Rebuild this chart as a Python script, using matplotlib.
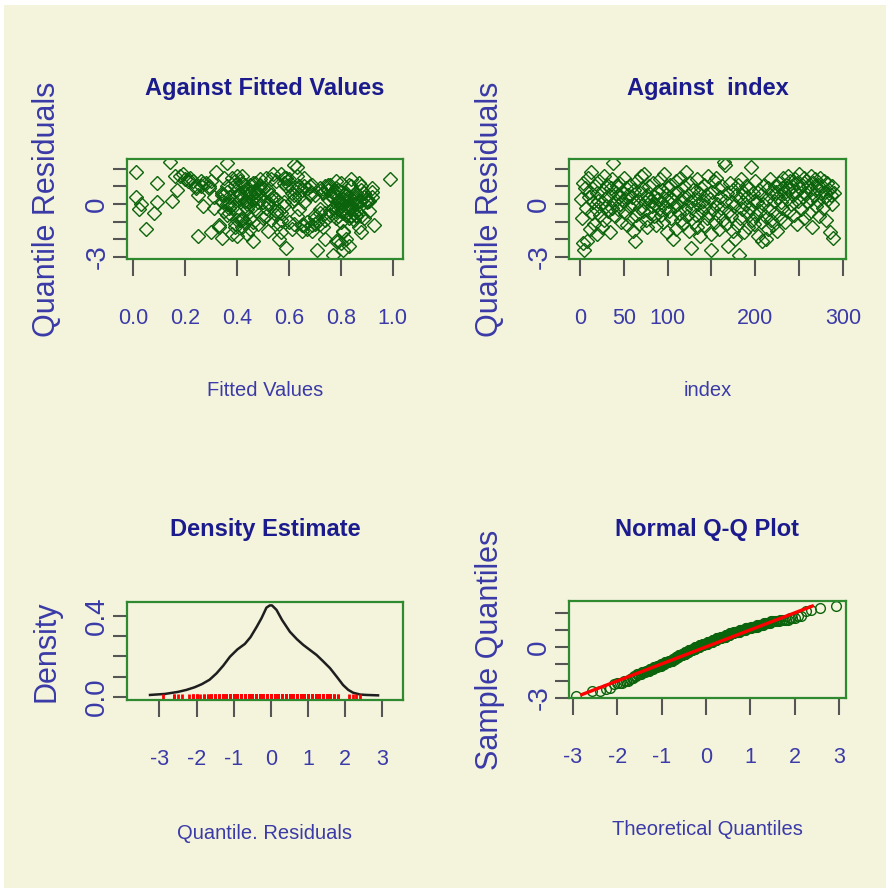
import matplotlib
matplotlib.use('Agg')
import matplotlib.pyplot as plt
import numpy as np
from statistics import NormalDist
from matplotlib.patches import Rectangle

# ---------------- data (read/estimated from the picture) ----------------
residuals = [
    0.3, -0.8, 1.2, -2.2, -2.6, 0.9, -0.2, -2.1, 1.5, 0.4,
    -1.4, 0.7, 1.8, -0.5, 0.1, -1.1, 1.0, -0.3, 0.6, -1.7,
    0.2, 1.3, -0.6, 0.0, -1.3, 0.8, 1.6, -0.9, 0.3, -0.1,
    1.1, -0.4, 0.5, -1.6, 0.9, 1.4, -0.2, 2.3, 0.1, -0.7,
    0.6, 1.0, -0.3, 0.4, 1.2, 0.0, -1.0, 0.7, 0.2, 1.5,
    -0.5, 0.3, 0.9, -1.2, 0.5, -0.1, 1.1, -0.8, 0.4, -1.5,
    0.0, 0.8, -2.1, -0.6, 1.3, 0.2, -1.1, 0.6, -0.2, 1.6,
    0.9, -0.4, 1.7, 0.1, -0.9, 0.5, -1.3, 0.3, 1.0, -0.5,
    0.2, -0.1, 1.2, -0.7, 0.4, 0.0, -1.2, 0.7, 0.3, -0.3,
    1.4, -0.6, 0.1, 0.8, -1.0, 1.7, -0.2, 0.5, -1.6, 0.2,
    0.9, -0.4, 1.1, -0.8, 0.3, -2.0, 0.6, -0.1, 1.3, -1.4,
    0.0, 0.7, -0.5, 1.5, -0.9, 0.2, -1.1, 0.4, 1.0, -0.3,
    1.8, -0.7, 0.5, -1.5, 0.1, 1.2, -2.5, -0.2, 0.8, -1.0,
    0.3, -0.6, 1.4, -1.3, 0.0, 0.6, -1.8, 0.9, -0.4, 0.2,
    -1.2, 1.1, -0.1, 0.5, -0.8, 1.6, -0.5, 0.3, -1.7, -2.6,
    0.7, -0.3, 1.3, -1.0, 1.5, 0.0, -0.6, 0.9, -1.4, 0.4,
    -0.2, 1.0, -0.9, 2.4, 2.2, 0.2, -1.1, 0.6, -2.4, -0.4,
    1.2, -0.7, 0.1, -1.5, 0.8, -0.1, -2.0, 0.5, -1.2, 1.1,
    -2.9, 0.3, -0.8, 1.4, -0.3, 0.7, -1.6, 0.0, 1.0, -0.5,
    0.4, -1.3, 0.9, -0.2, 2.1, -0.9, 0.6, -1.1, 0.2, 1.3,
    -0.6, 0.1, -1.8, 0.8, -0.4, -1.0, 0.5, -2.1, 0.0, 1.1,
    -0.7, -2.0, 0.3, -1.4, 0.9, -0.3, 1.4, -0.9, 0.6, -1.2,
    0.2, 1.0, -0.5, 0.7, -1.5, 0.4, 1.2, -0.8, 0.1, 0.9,
    -0.2, 1.5, 0.6, -1.0, 1.1, 0.3, 1.6, -0.4, 0.8, 1.3,
    0.0, 1.0, 0.5, -0.6, 1.4, 0.7, -1.1, 1.2, 0.2, 1.7,
    0.9, -0.3, 1.1, 0.4, 1.5, -0.8, 0.6, 1.3, 0.1, 1.0,
    -0.5, 0.8, 1.6, 0.3, -1.3, 1.2, 0.5, 1.4, -0.1, 0.9,
    1.1, 0.2, -0.7, 1.5, 0.6, 1.0, -0.2, 1.3, 0.4, 0.7,
    -0.9, 1.2, 0.3, 0.8, -1.6, 0.5, 1.0, 0.0, -1.9, 0.6,
]

fitted = [
    0.55, 0.42, 0.09, 0.80, 0.81, 0.67, 0.38, 0.78, 0.22, 0.01,
    0.05, 0.47, 0.01, 0.08, 0.09, 0.72, 0.29, 0.02, 0.86, 0.44,
    0.61, 0.26, 0.84, 0.03, 0.39, 0.75, 0.18, 0.53, 0.90, 0.46,
    0.69, 0.35, 0.82, 0.57, 0.24, 0.99, 0.77, 0.36, 0.50, 0.88,
    0.41, 0.64, 0.79, 0.31, 0.58, 0.85, 0.43, 0.73, 0.15, 0.66,
    0.37, 0.81, 0.48, 0.93, 0.62, 0.27, 0.76, 0.45, 0.89, 0.52,
    0.83, 0.40, 0.46, 0.70, 0.21, 0.87, 0.56, 0.34, 0.78, 0.63,
    0.49, 0.91, 0.19, 0.80, 0.42, 0.68, 0.33, 0.85, 0.59, 0.74,
    0.44, 0.82, 0.28, 0.51, 0.77, 0.38, 0.65, 0.92, 0.47, 0.81,
    0.60, 0.36, 0.79, 0.17, 0.71, 0.54, 0.84, 0.41, 0.30, 0.88,
    0.50, 0.76, 0.39, 0.83, 0.62, 0.82, 0.45, 0.80, 0.23, 0.67,
    0.86, 0.43, 0.72, 0.35, 0.57, 0.90, 0.48, 0.79, 0.26, 0.64,
    0.32, 0.84, 0.40, 0.69, 0.52, 0.87, 0.59, 0.37, 0.75, 0.46,
    0.81, 0.55, 0.20, 0.73, 0.44, 0.89, 0.40, 0.61, 0.78, 0.34,
    0.66, 0.49, 0.83, 0.25, 0.70, 0.42, 0.85, 0.53, 0.38, 0.71,
    0.77, 0.47, 0.30, 0.80, 0.58, 0.36, 0.86, 0.63, 0.45, 0.92,
    0.51, 0.74, 0.41, 0.14, 0.62, 0.82, 0.39, 0.68, 0.83, 0.56,
    0.27, 0.79, 0.48, 0.65, 0.88, 0.43, 0.56, 0.76, 0.33, 0.60,
    0.77, 0.84, 0.50, 0.21, 0.72, 0.45, 0.81, 0.37, 0.66, 0.87,
    0.54, 0.42, 0.78, 0.31, 0.63, 0.85, 0.48, 0.70, 0.91, 0.39,
    0.82, 0.58, 0.25, 0.44, 0.80, 0.67, 0.35, 0.79, 0.52, 0.75,
    0.86, 0.74, 0.46, 0.61, 0.29, 0.83, 0.53, 0.40, 0.77, 0.69,
    0.43, 0.88, 0.57, 0.36, 0.81, 0.64, 0.47, 0.78, 0.90, 0.50,
    0.84, 0.38, 0.73, 0.60, 0.45, 0.82, 0.16, 0.55, 0.79, 0.41,
    0.86, 0.68, 0.34, 0.76, 0.49, 0.80, 0.62, 0.42, 0.85, 0.57,
    0.72, 0.44, 0.83, 0.37, 0.59, 0.89, 0.48, 0.78, 0.66, 0.24,
    0.81, 0.52, 0.40, 0.75, 0.87, 0.46, 0.70, 0.84, 0.58, 0.92,
    0.43, 0.79, 0.63, 0.51, 0.82, 0.36, 0.77, 0.55, 0.86, 0.47,
    0.74, 0.80, 0.41, 0.65, 0.88, 0.53, 0.84, 0.45, 0.34, 0.61,
]

density_x = [-3.25, -2.85, -2.5, -2.27, -2.05, -1.86, -1.65, -1.46, -1.28, -1.10,
             -0.90, -0.70, -0.55, -0.38, -0.25, -0.12, -0.03, 0.03, 0.15, 0.30,
             0.51, 0.70, 0.87, 1.05, 1.23, 1.41, 1.59, 1.77, 1.94, 2.08,
             2.21, 2.40, 2.57, 2.88]
density_y = [0.010, 0.015, 0.025, 0.035, 0.048, 0.063, 0.085, 0.117, 0.155, 0.199,
             0.235, 0.262, 0.295, 0.347, 0.390, 0.441, 0.452, 0.452, 0.430, 0.380,
             0.322, 0.285, 0.257, 0.232, 0.207, 0.175, 0.142, 0.100, 0.059, 0.035,
             0.021, 0.012, 0.010, 0.008]

qq_ref_range = [-2.8, 2.4]

titles = ["Against Fitted Values", "Against  index", "Density Estimate", "Normal Q-Q Plot"]
xlabels = ["Fitted Values", "index", "Quantile. Residuals", "Theoretical Quantiles"]
ylabels = ["Quantile Residuals", "Quantile Residuals", "Density", "Sample Quantiles"]

fitted_ticks = [0.0, 0.2, 0.4, 0.6, 0.8, 1.0]
fitted_ticklabels = ["0.0", "0.2", "0.4", "0.6", "0.8", "1.0"]
index_ticks = [0, 50, 100, 150, 200, 250, 300]
index_ticklabels = ["0", "50", "100", "", "200", "", "300"]
resid_ticks = [-3, -2, -1, 0, 1, 2]
resid_ticklabels = ["-3", "", "", "0", "", ""]
dens_xticks = [-3, -2, -1, 0, 1, 2, 3]
dens_xticklabels = ["-3", "-2", "-1", "0", "1", "2", "3"]
dens_yticks = [0.0, 0.1, 0.2, 0.3, 0.4]
dens_yticklabels = ["0.0", "", "", "", "0.4"]
qq_xticks = [-3, -2, -1, 0, 1, 2, 3]
qq_xticklabels = ["-3", "-2", "-1", "0", "1", "2", "3"]

# ---------------- derived ----------------
res = np.array(residuals)
n = len(res)
index = np.arange(1, n + 1)
nd = NormalDist()
theo = np.array([nd.inv_cdf((i - 0.5) / n) for i in range(1, n + 1)])
sample_q = np.sort(res)

# ---------------- styling ----------------
BG = '#F4F3DC'
GREEN_PT = '#0B640B'
BOX = '#2F8A2F'
TITLE_C = '#1B1B8E'
LAB_C = '#3A3AA8'
TICK_C = '#555555'
NARROW = ['Liberation Sans Narrow', 'Liberation Sans', 'DejaVu Sans']
REG = ['Liberation Sans', 'DejaVu Sans']

fig = plt.figure(figsize=(8.86, 8.88), dpi=100, facecolor='white')
fig.patches.append(Rectangle((4 / 886, 0), 1, 1 - 5 / 888, transform=fig.transFigure,
                             facecolor=BG, edgecolor='none', zorder=-10))

pos = [
    [0.1433, 0.7083, 0.3115, 0.1126],
    [0.6422, 0.7083, 0.3126, 0.1126],
    [0.1433, 0.2117, 0.3115, 0.1104],
    [0.6422, 0.2140, 0.3126, 0.1092],
]
axes = [fig.add_axes(p) for p in pos]


def style(ax, title, xlabel, ylabel, xt, xtl, yt, ytl, title_y, xlab_y, ylab_x):
    ax.set_facecolor(BG)
    for s in ax.spines.values():
        s.set_color(BOX)
        s.set_linewidth(1.6)
    ax.set_xticks(xt)
    ax.set_xticklabels(xtl, fontfamily=NARROW, fontsize=15.5, color=LAB_C)
    ax.set_yticks(yt)
    ax.set_yticklabels(ytl, fontfamily=REG, fontsize=20, color=LAB_C,
                       rotation=90, va='center', ha='right')
    ax.tick_params(axis='x', length=12, width=1.5, color=TICK_C, pad=23)
    ax.tick_params(axis='y', length=10, width=1.5, color=TICK_C, pad=2)
    ax.text(0.5, title_y, title, transform=ax.transAxes, ha='center', va='center',
            fontsize=17, fontweight='bold', fontfamily=NARROW, color=TITLE_C)
    ax.set_xlabel(xlabel, fontfamily=NARROW, fontsize=14.5, color=LAB_C, va='center')
    ax.xaxis.set_label_coords(0.5, xlab_y)
    ax.set_ylabel(ylabel, fontfamily=REG, fontsize=22, color=LAB_C, va='center')
    ax.yaxis.set_label_coords(ylab_x, 0.5)


# Panel 1: against fitted values
ax = axes[0]
ax.plot(fitted, residuals, linestyle='none', marker='D', ms=6.8, mfc='none',
        mec=GREEN_PT, mew=1.0)
ax.set_xlim(-0.025, 1.04)
ax.set_ylim(-3.11, 2.55)
style(ax, titles[0], xlabels[0], ylabels[0], fitted_ticks, fitted_ticklabels,
      resid_ticks, resid_ticklabels, 1.71, -1.31, -0.29)

# Panel 2: against index
ax = axes[1]
ax.plot(index, residuals, linestyle='none', marker='D', ms=6.8, mfc='none',
        mec=GREEN_PT, mew=1.0)
ax.set_xlim(-12.5, 303.4)
ax.set_ylim(-3.11, 2.55)
style(ax, titles[1], xlabels[1], ylabels[1], index_ticks, index_ticklabels,
      resid_ticks, resid_ticklabels, 1.71, -1.31, -0.285)

# Panel 3: density estimate
ax = axes[2]
ax.plot(density_x, density_y, color='#1E1E1E', lw=1.8)
ax.plot(res, np.zeros(n), linestyle='none', marker='|', ms=5, mew=2.0, color='red')
ax.set_xlim(-3.87, 3.55)
ax.set_ylim(-0.015, 0.469)
style(ax, titles[2], xlabels[2], ylabels[2], dens_xticks, dens_xticklabels,
      dens_yticks, dens_yticklabels, 1.735, -1.357, -0.29)

# Panel 4: normal Q-Q plot
ax = axes[3]
ax.plot(theo, sample_q, linestyle='none', marker='o', ms=7, mfc='none',
        mec=GREEN_PT, mew=1.0)
ax.plot(qq_ref_range, qq_ref_range, color='red', lw=2.4)
ax.set_xlim(-3.09, 3.16)
ax.set_ylim(-3.0, 2.7)
style(ax, titles[3], xlabels[3], ylabels[3], qq_xticks, qq_xticklabels,
      resid_ticks, resid_ticklabels, 1.735, -1.357, -0.285)

fig.savefig('out.png', dpi=100, facecolor='white')
